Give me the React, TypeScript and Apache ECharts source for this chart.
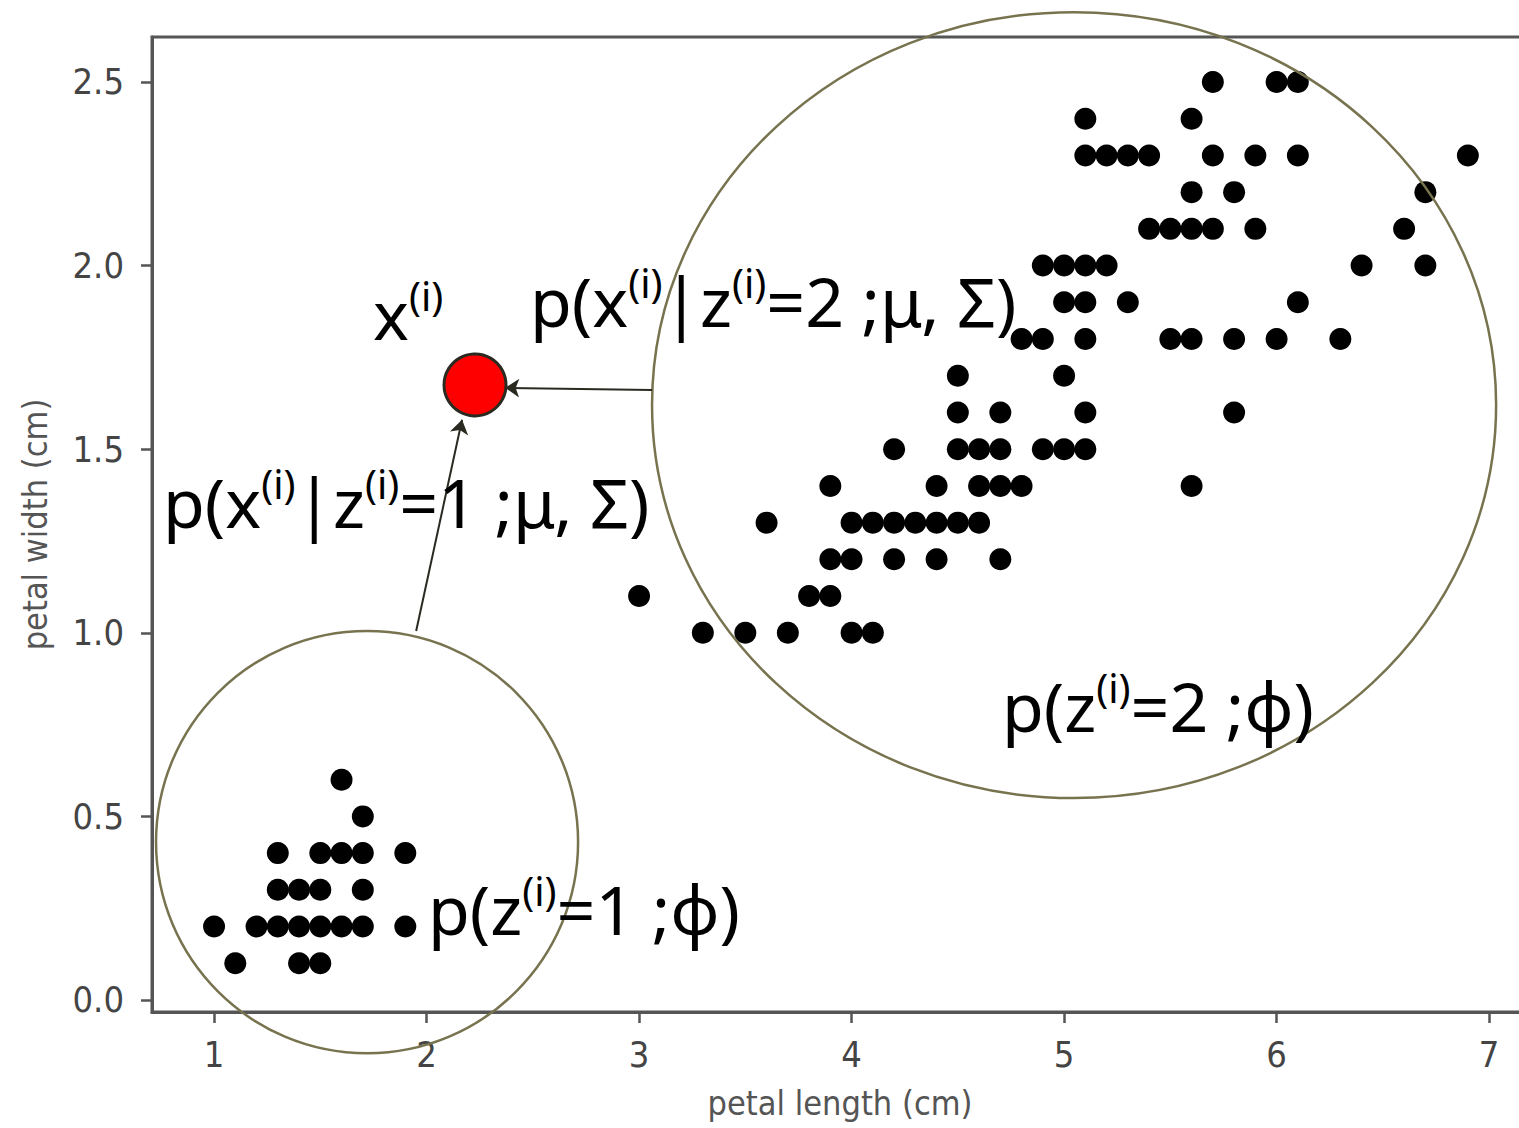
import React, { useEffect, useRef } from "react";
import * as echarts from "echarts";

const xTicks = [1, 2, 3, 4, 5, 6, 7];
const yTicks = [0, 0.5, 1.0, 1.5, 2.0, 2.5];

const setosaPoints: [number, number][] = [
  [1.6, 0.6], [1.7, 0.5],
  [1.3, 0.4], [1.5, 0.4], [1.6, 0.4], [1.7, 0.4], [1.9, 0.4],
  [1.3, 0.3], [1.4, 0.3], [1.5, 0.3], [1.7, 0.3],
  [1.0, 0.2], [1.2, 0.2], [1.3, 0.2], [1.4, 0.2], [1.5, 0.2], [1.6, 0.2], [1.7, 0.2], [1.9, 0.2],
  [1.1, 0.1], [1.4, 0.1], [1.5, 0.1],
];

const otherPoints: [number, number][] = [
  [3.3, 1.0], [3.5, 1.0], [3.7, 1.0], [4.0, 1.0], [4.1, 1.0],
  [3.0, 1.1], [3.8, 1.1], [3.9, 1.1],
  [3.9, 1.2], [4.0, 1.2], [4.2, 1.2], [4.4, 1.2], [4.7, 1.2],
  [3.6, 1.3], [4.0, 1.3], [4.1, 1.3], [4.2, 1.3], [4.3, 1.3], [4.4, 1.3], [4.5, 1.3], [4.6, 1.3],
  [3.9, 1.4], [4.4, 1.4], [4.6, 1.4], [4.7, 1.4], [4.8, 1.4], [5.6, 1.4],
  [4.2, 1.5], [4.5, 1.5], [4.6, 1.5], [4.7, 1.5], [4.9, 1.5], [5.0, 1.5], [5.1, 1.5],
  [4.5, 1.6], [4.7, 1.6], [5.1, 1.6], [5.8, 1.6],
  [4.5, 1.7], [5.0, 1.7],
  [4.8, 1.8], [4.9, 1.8], [5.1, 1.8], [5.5, 1.8], [5.6, 1.8], [5.8, 1.8], [6.0, 1.8], [6.3, 1.8],
  [5.0, 1.9], [5.1, 1.9], [5.3, 1.9], [6.1, 1.9],
  [4.9, 2.0], [5.0, 2.0], [5.1, 2.0], [5.2, 2.0], [6.4, 2.0], [6.7, 2.0],
  [5.4, 2.1], [5.5, 2.1], [5.6, 2.1], [5.7, 2.1], [5.9, 2.1], [6.6, 2.1],
  [5.6, 2.2], [5.8, 2.2], [6.7, 2.2],
  [5.1, 2.3], [5.2, 2.3], [5.3, 2.3], [5.4, 2.3], [5.7, 2.3], [5.9, 2.3], [6.1, 2.3], [6.9, 2.3],
  [5.1, 2.4], [5.6, 2.4],
  [5.7, 2.5], [6.0, 2.5], [6.1, 2.5],
];

const samplePoint: [number, number][] = [[2.228, 1.675]];

// [centerX, centerY, radiusX, radiusY] in data units
const clusterEllipses: number[][] = [
  [1.72, 0.43, 0.993, 0.575],
  [5.047, 1.62, 1.986, 1.07],
];

const arrowCoords: [number, number][][] = [
  [[3.061, 1.661], [2.37, 1.667]],
  [[1.951, 1.005], [2.167, 1.58]],
];

const TXT = "#2e2b1f";
const LABEL_FONT = "'DejaVu Sans Condensed', 'DejaVu Sans', sans-serif";
const ANNO_FONT = "'Noto Sans', 'Open Sans', sans-serif";

const rich = {
  m: { fontSize: 68, fontFamily: ANNO_FONT, color: TXT, lineHeight: 76 },
  s: { fontSize: 40, fontFamily: ANNO_FONT, color: TXT, lineHeight: 54, verticalAlign: "top" },
};

const annotations = [
  { text: "{m|x}{s|(i)}", x: 373, y: 275 },
  { text: "{m|p(x}{s|(i)}{m||z}{s|(i)}{m|=2 ;μ, Σ)}", x: 530, y: 262 },
  { text: "{m|p(x}{s|(i)}{m||z}{s|(i)}{m|=1 ;μ, Σ)}", x: 163, y: 463 },
  { text: "{m|p(z}{s|(i)}{m|=2 ;ϕ)}", x: 1002, y: 667 },
  { text: "{m|p(z}{s|(i)}{m|=1 ;ϕ)}", x: 428, y: 870 },
];

export default function App() {
  const ref = useRef<HTMLDivElement>(null);
  useEffect(() => {
    if (!ref.current) return;
    const chart = echarts.init(ref.current, null, { renderer: "svg" });
    chart.setOption({
      animation: false,
      backgroundColor: "#ffffff",
      grid: {
        left: 152,
        top: 37,
        width: 1376,
        height: 975,
        show: true,
        borderColor: "#555",
        borderWidth: 3,
        backgroundColor: "transparent",
        outerBoundsMode: "none",
      },
      xAxis: {
        type: "value",
        min: 0.708,
        max: 7.183,
        name: "petal length (cm)",
        nameLocation: "middle",
        nameGap: 74,
        nameTextStyle: { fontSize: 34, color: "#555", fontFamily: LABEL_FONT },
        axisLine: { show: true, onZero: false, lineStyle: { color: "#555", width: 3 } },
        axisTick: { show: true, customValues: xTicks, length: 11, lineStyle: { color: "#555", width: 2.5 } },
        axisLabel: {
          customValues: xTicks,
          fontSize: 36,
          color: "#444",
          fontFamily: LABEL_FONT,
          margin: 24,
          formatter: (v: number) => String(v),
        },
        splitLine: { show: false },
      },
      yAxis: {
        type: "value",
        min: -0.0327,
        max: 2.6225,
        name: "petal width (cm)",
        nameLocation: "middle",
        nameGap: 100,
        nameTextStyle: { fontSize: 34, color: "#555", fontFamily: LABEL_FONT },
        axisLine: { show: true, onZero: false, lineStyle: { color: "#555", width: 3 } },
        axisTick: { show: true, customValues: yTicks, length: 11, lineStyle: { color: "#555", width: 2.5 } },
        axisLabel: {
          customValues: yTicks,
          fontSize: 36,
          color: "#444",
          fontFamily: LABEL_FONT,
          margin: 28,
          formatter: (v: number) => v.toFixed(1),
        },
        splitLine: { show: false },
      },
      series: [
        {
          type: "scatter",
          data: setosaPoints,
          symbolSize: 22,
          itemStyle: { color: "#000", opacity: 1 },
          z: 2,
        },
        {
          type: "scatter",
          data: otherPoints,
          symbolSize: 22,
          itemStyle: { color: "#000", opacity: 1 },
          z: 2,
        },
        {
          type: "custom",
          coordinateSystem: "cartesian2d",
          clip: false,
          silent: true,
          data: clusterEllipses,
          encode: { x: 0, y: 1 },
          renderItem: (params: any, api: any) => {
            const c = api.coord([api.value(0), api.value(1)]);
            const s = api.size([api.value(2), api.value(3)]);
            return {
              type: "ellipse",
              shape: { cx: c[0], cy: c[1], rx: s[0], ry: s[1] },
              style: { fill: "none", stroke: "#77734f", lineWidth: 2.5 },
            };
          },
          z: 3,
        },
        {
          type: "scatter",
          data: samplePoint,
          symbolSize: 62,
          itemStyle: { color: "#ff0000", borderColor: "#2b2a20", borderWidth: 3, opacity: 1 },
          z: 4,
        },
        {
          type: "lines",
          coordinateSystem: "cartesian2d",
          data: arrowCoords.map((c) => ({ coords: c })),
          symbol: ["none", "arrow"],
          symbolSize: 14,
          lineStyle: { color: "#2b2a20", width: 2, opacity: 1 },
          z: 5,
        },
      ],
      graphic: annotations.map((a) => ({
        type: "text",
        x: a.x,
        y: a.y,
        z: 10,
        style: {
          text: a.text,
          rich,
          verticalAlign: "top",
          align: "left",
        },
      })),
    });
    return () => chart.dispose();
  }, []);
  return (
    <div
      style={{
        position: "fixed",
        left: 0,
        top: 0,
        width: 1519,
        height: 1128,
        overflow: "hidden",
        background: "#fff",
      }}
    >
      <div ref={ref} style={{ width: 1560, height: 1128 }} />
    </div>
  );
}
